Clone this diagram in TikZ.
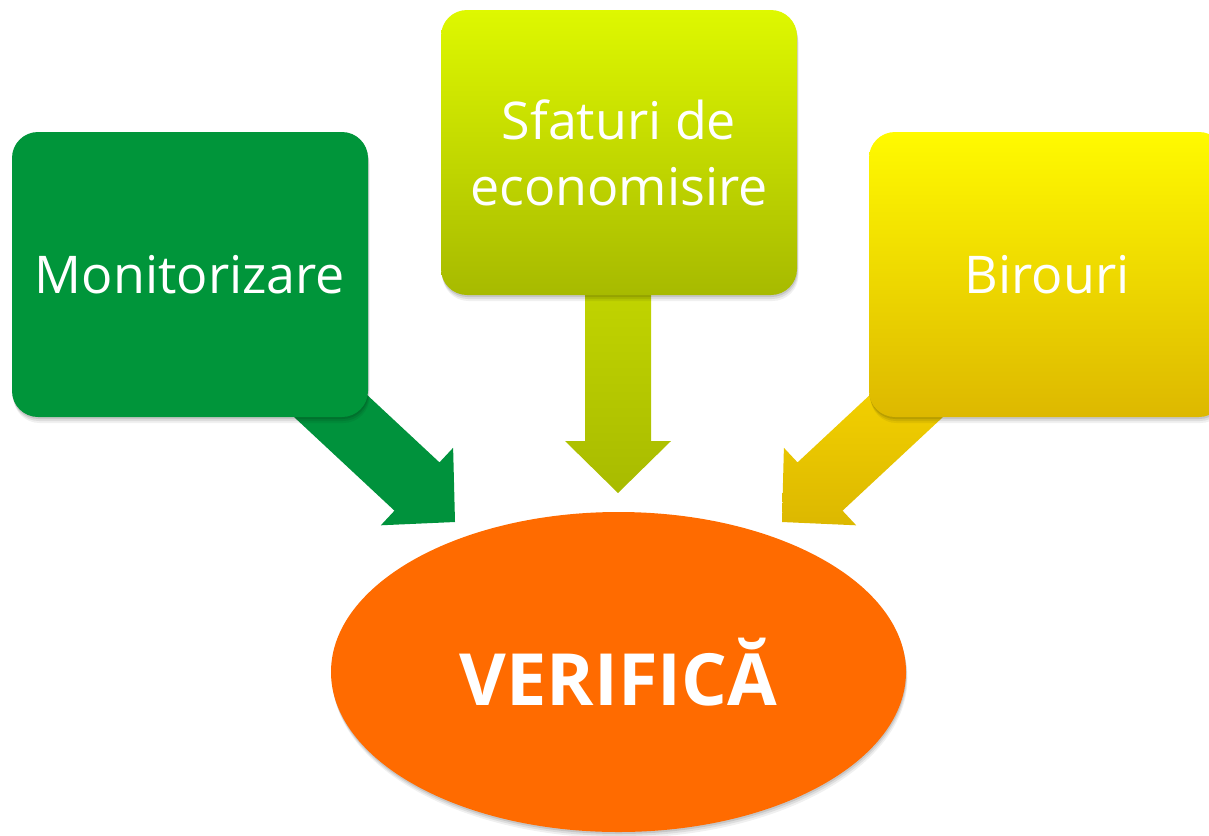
\documentclass[tikz,border=0pt]{standalone}
\usepackage{fontspec}
\setmainfont{Open Sans}
\usetikzlibrary{shapes.geometric,shadows}
\definecolor{grn}{HTML}{00953A}
\definecolor{grnarrow}{HTML}{00923C}
\definecolor{limeTop}{HTML}{DEF800}
\definecolor{limeBot}{HTML}{A7BA00}
\definecolor{limeArrTop}{HTML}{C6D900}
\definecolor{limeArrBot}{HTML}{A8BB00}
\definecolor{yelTop}{HTML}{FFFA00}
\definecolor{yelBot}{HTML}{DDB800}
\definecolor{yelArrTop}{HTML}{F7D500}
\definecolor{yelArrBot}{HTML}{DCB800}
\definecolor{orng}{HTML}{FF6B00}
\tikzset{
  softshadow/.style={
    general shadow={fill=black,opacity=.06,shadow xshift=1.5pt,shadow yshift=-6pt},
    general shadow={fill=black,opacity=.08,shadow xshift=1pt,shadow yshift=-4pt},
    general shadow={fill=black,opacity=.10,shadow xshift=0.5pt,shadow yshift=-2pt}},
  box/.style={rounded corners=26pt, minimum width=356pt, minimum height=285pt,
    text=white, font=\fontsize{52}{66}\selectfont, align=center, inner sep=0pt, softshadow},
  fatarrow/.pic={\path[pic actions] (0,0) -- (-52,53) -- (-52,33) -- (-#1,33) -- (-#1,-33) -- (-52,-33) -- (-52,-53) -- cycle;}
}
\begin{document}
\begin{tikzpicture}[x=1pt,y=-1pt]
\useasboundingbox (0,0) rectangle (1209,835);
\clip (0,0) rectangle (1209,835);
% arrow tips
\coordinate (tipL) at (455,522);
\coordinate (tipM) at (618,493);
\coordinate (tipR) at (782,522);
% arrows
\pic[rotate=-43, fill=grnarrow, softshadow] at (tipL) {fatarrow=200};
\pic[rotate=-90, top color=limeArrTop, bottom color=limeArrBot, softshadow] at (tipM) {fatarrow=243};
\pic[rotate=-137, top color=yelArrTop, bottom color=yelArrBot, softshadow] at (tipR) {fatarrow=200};
% boxes
\node[box, fill=grn] (mon) at (190,274.5) {Monitorizare};
\node[box, top color=limeTop, bottom color=limeBot] (sfat) at (619,152.5) {Sfaturi de\\economisire};
\node[box, top color=yelTop, bottom color=yelBot] (bir) at (1047,274.5) {Birouri};
% ellipse
\node[ellipse, fill=orng, minimum width=575pt, minimum height=320pt, inner sep=0pt,
  softshadow, text=white, font=\fontsize{72}{80}\selectfont\bfseries] (ver) at (618.5,672) {VERIFICĂ};
\end{tikzpicture}
\end{document}
